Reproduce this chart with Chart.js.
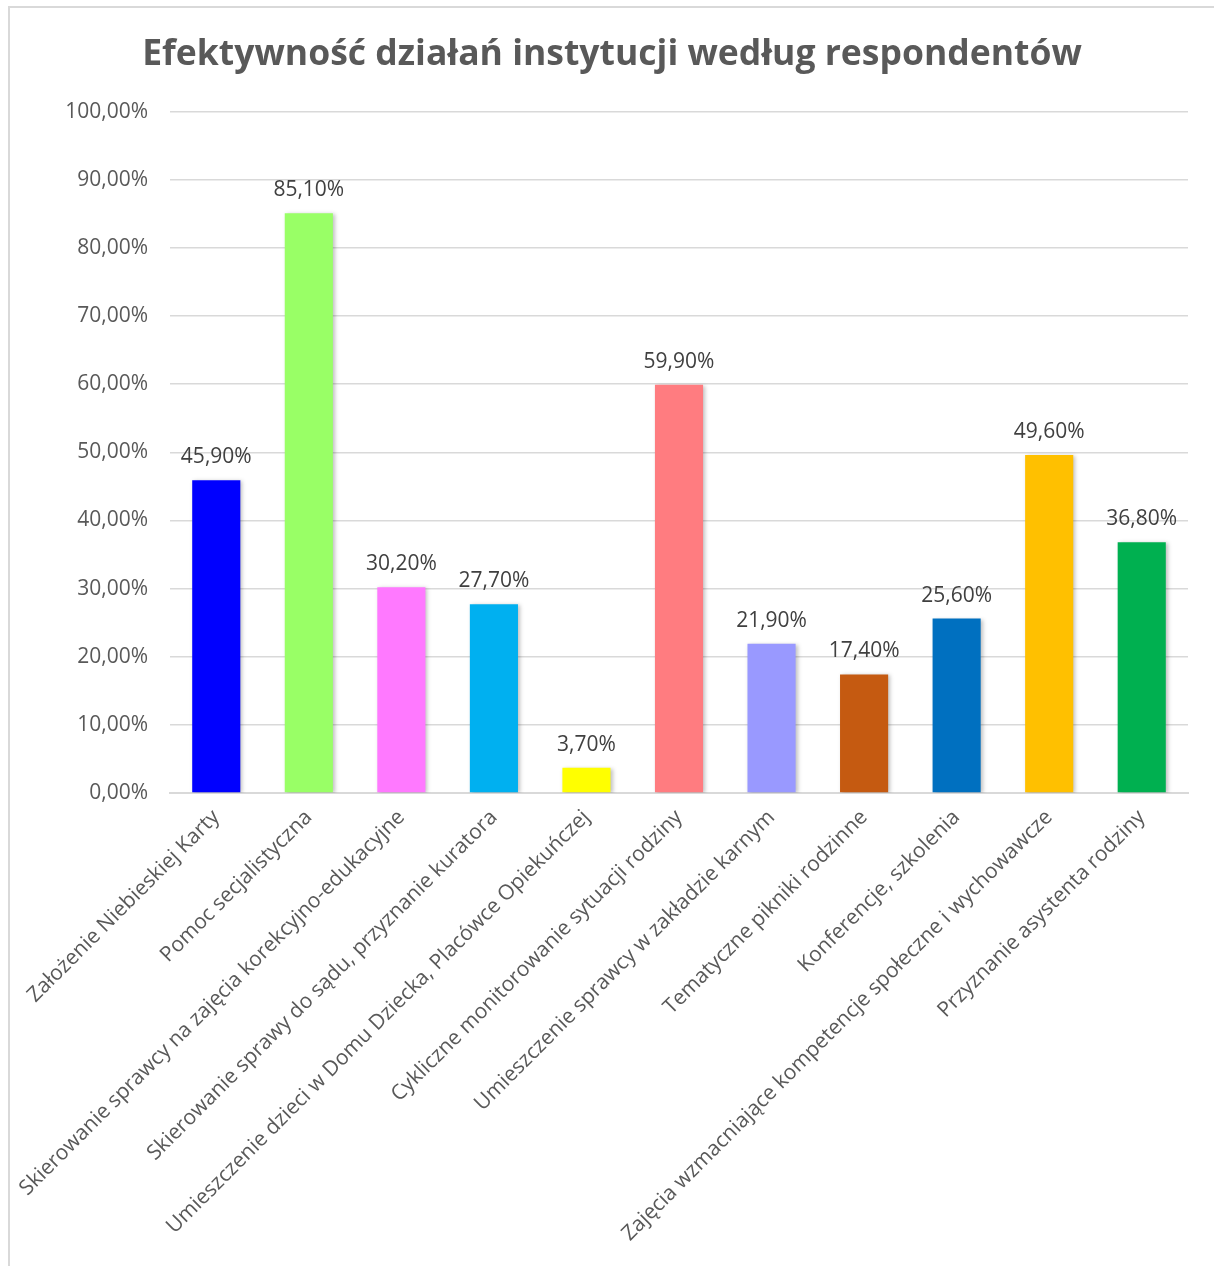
<!DOCTYPE html>
<html lang="pl">
<head>
<meta charset="utf-8">
<title>Efektywność działań instytucji według respondentów</title>
<script src="https://cdn.jsdelivr.net/npm/chart.js@4.4.1/dist/chart.umd.min.js"></script>
<style>
    html, body { margin: 0; padding: 0; background: #fff; }
    #ramka {
        position: absolute; left: 8px; top: 6px; width: 1220px; height: 1280px;
        border: 2px solid #d9d9d9; box-sizing: border-box;
    }
    #wykres-box { position: absolute; left: 0; top: 0; width: 1214px; height: 1266px; }
</style>
</head>
<body>
<div id="ramka"></div>
<div id="wykres-box"><canvas id="wykres"></canvas></div>
<script>
// dane
const kategorie = [
    "Założenie Niebieskiej Karty",
    "Pomoc secjalistyczna",
    "Skierowanie sprawcy na zajęcia korekcyjno-edukacyjne",
    "Skierowanie sprawy do sądu, przyznanie kuratora",
    "Umieszczenie dzieci w Domu Dziecka, Placówce Opiekuńczej",
    "Cykliczne monitorowanie sytuacji rodziny",
    "Umieszczenie sprawcy w zakładzie karnym",
    "Tematyczne pikniki rodzinne",
    "Konferencje, szkolenia",
    "Zajęcia wzmacniające kompetencje społeczne i wychowawcze",
    "Przyznanie asystenta rodziny"
];
const wartosci = [45.9, 85.1, 30.2, 27.7, 3.7, 59.9, 21.9, 17.4, 25.6, 49.6, 36.8];
const kolory = ["#0000ff", "#99ff66", "#ff79ff", "#00b0f0", "#ffff00", "#ff7c80",
                "#9999ff", "#c55a11", "#0070c0", "#ffc000", "#00b050"];
const tytul = "Efektywność działań instytucji według respondentów";

function formatProcent(v) {
    return v.toFixed(2).replace(".", ",") + "%";
}

// etykiety nad słupkami
const etykietyPlugin = {
    id: "etykiety",
    afterDatasetsDraw(chart) {
        const ctx = chart.ctx;
        const meta = chart.getDatasetMeta(0);
        ctx.save();
        ctx.font = "21px 'Open Sans'";
        ctx.fillStyle = "#404040";
        ctx.textAlign = "center";
        ctx.textBaseline = "alphabetic";
        meta.data.forEach((bar, i) => {
            ctx.fillText(formatProcent(wartosci[i]), bar.x, bar.y - 17);
        });
        ctx.restore();
    }
};

// lekki cień słupków
const cienPlugin = {
    id: "cien",
    beforeDatasetsDraw(chart) {
        const ctx = chart.ctx;
        ctx.save();
        ctx.shadowColor = "rgba(0,0,0,0.25)";
        ctx.shadowBlur = 4;
        ctx.shadowOffsetX = 2;
        ctx.shadowOffsetY = 1;
    },
    afterDatasetsDraw(chart) {
        chart.ctx.restore();
    }
};

const ctx = document.getElementById("wykres").getContext("2d");
let chart = new Chart(ctx, {
    type: "bar",
    data: {
        labels: kategorie,
        datasets: [{
            data: wartosci,
            backgroundColor: kolory,
            borderWidth: 0,
            barPercentage: 0.52,
            categoryPercentage: 1.0
        }]
    },
    options: {
        responsive: true,
        maintainAspectRatio: false,
        animation: false,
        layout: { padding: { left: 36, right: 26, top: 0, bottom: 0 } },
        plugins: {
            legend: { display: false },
            tooltip: { enabled: false },
            title: {
                display: true,
                text: tytul,
                color: "#595959",
                font: { family: "Open Sans", size: 35.5, weight: "bold", lineHeight: 1.2 },
                padding: { top: 34, bottom: 35 }
            }
        },
        scales: {
            x: {
                grid: { display: false },
                border: { display: true, color: "#d9d9d9", width: 2 },
                ticks: {
                    color: "#595959",
                    font: { family: "Open Sans", size: 21 },
                    minRotation: 45,
                    maxRotation: 45,
                    autoSkip: false,
                    padding: 4
                },
                afterFit(scale) { scale.height = 473; }
            },
            y: {
                min: 0,
                max: 100,
                grid: { color: "#d9d9d9", lineWidth: 1.5, drawTicks: false },
                border: { display: false },
                ticks: {
                    stepSize: 10,
                    color: "#595959",
                    font: { family: "Open Sans", size: 21 },
                    padding: 22,
                    callback: v => formatProcent(v)
                },
                afterFit(scale) { scale.width = 134; }
            }
        }
    },
    plugins: [cienPlugin, etykietyPlugin]
});
</script>
</body>
</html>
